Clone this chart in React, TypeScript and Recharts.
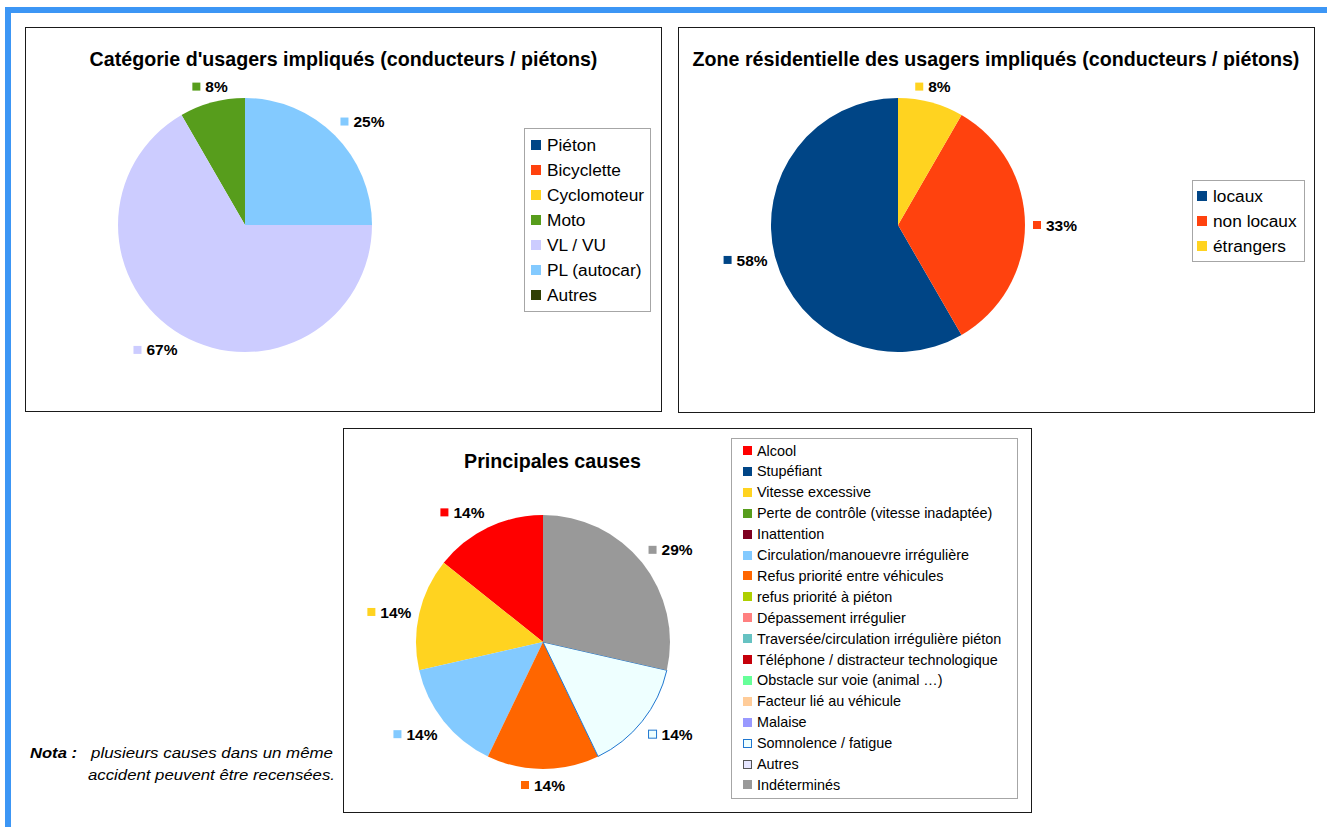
import React from 'react';
import { PieChart, Pie, Cell, Legend } from 'recharts';

const FONT = '"Liberation Sans", Arial, Helvetica, sans-serif';

// ---- Chart 1 : Catégorie d'usagers impliqués ----
const usagerCategories = ['Piéton', 'Bicyclette', 'Cyclomoteur', 'Moto', 'VL / VU', 'PL (autocar)', 'Autres'];
const usagerValues = [0, 0, 0, 1, 8, 3, 0];
const usagerColors = ['#004586', '#ff420e', '#ffd320', '#579d1c', '#ccccff', '#83caff', '#314004'];
const usagerStrokes = ['none', 'none', 'none', 'none', 'none', 'none', 'none'];

// ---- Chart 2 : Zone résidentielle ----
const zoneCategories = ['locaux', 'non locaux', 'étrangers'];
const zoneValues = [7, 4, 1];
const zoneColors = ['#004586', '#ff420e', '#ffd320'];
const zoneStrokes = ['none', 'none', 'none'];

// ---- Chart 3 : Principales causes ----
const causeCategories = [
  'Alcool',
  'Stupéfiant',
  'Vitesse excessive',
  'Perte de contrôle (vitesse inadaptée)',
  'Inattention',
  'Circulation/manouevre irrégulière',
  'Refus priorité entre véhicules',
  'refus priorité à piéton',
  'Dépassement irrégulier',
  'Traversée/circulation irrégulière piéton',
  'Téléphone / distracteur technologique',
  'Obstacle sur voie (animal …)',
  'Facteur lié au véhicule',
  'Malaise',
  'Somnolence / fatigue',
  'Autres',
  'Indéterminés',
];
const causeValues = [1, 0, 1, 0, 0, 1, 1, 0, 0, 0, 0, 0, 0, 0, 1, 0, 2];
const causeColors = [
  '#ff0000', '#004586', '#ffd320', '#579d1c', '#7e0021', '#83caff', '#ff6600', '#aecf00',
  '#ff8080', '#66c2c2', '#c5000b', '#66ff99', '#ffcc99', '#9999ff', '#eeffff', '#e6e6ff', '#999999',
];
const causeStrokes = [
  'none', 'none', 'none', 'none', 'none', 'none', 'none', 'none',
  'none', 'none', 'none', 'none', 'none', 'none', '#1f77d0', '#555555', 'none',
];

const LABEL_SIZE = 15.5;

function makeLabel(values: number[], colors: string[], strokes: string[], pcx: number, pcy: number) {
  const total = values.reduce((a, b) => a + b, 0);
  return (props: any) => {
    const { midAngle, outerRadius, index } = props;
    const value = values[index];
    if (!value) return null;
    const rad = Math.PI / 180;
    const dx = Math.cos(midAngle * rad);
    const dy = -Math.sin(midAngle * rad);
    const r = outerRadius + 8;
    const cx = typeof props.cx === 'number' ? props.cx : pcx;
    const cy = typeof props.cy === 'number' ? props.cy : pcy;
    const px = cx + dx * r;
    const py = cy + dy * r;
    const text = `${Math.round((value / total) * 100)}%`;
    const tw = text.split('').reduce((s, c) => s + (c === '%' ? 0.889 : 0.556), 0) * LABEL_SIZE;
    const sq = 8;
    const gap = 5;
    const w = sq + gap + tw;
    const h = 16;
    const left = dx > 0.38 ? px : dx < -0.38 ? px - w : px - w / 2;
    const top = dy > 0.38 ? py : dy < -0.38 ? py - h : py - h / 2;
    const midY = top + h / 2;
    return (
      <g key={`lbl-${index}`}>
        <rect
          x={left}
          y={midY - sq / 2}
          width={sq}
          height={sq}
          fill={colors[index]}
          stroke={strokes[index] === 'none' ? 'none' : strokes[index]}
          strokeWidth={1}
        />
        <text
          x={left + sq + gap}
          y={midY + 0.36 * LABEL_SIZE}
          fontSize={LABEL_SIZE}
          fontWeight="bold"
          fontFamily={FONT}
          fill="#000"
        >
          {text}
        </text>
      </g>
    );
  };
}

type LegendSpec = {
  names: string[];
  colors: string[];
  strokes: string[];
  fontSize: number;
  sq: number;
  sqX: number;
  textX: number;
  firstY: number;
  step: number;
  width: number;
  height: number;
};

function LegendBox(spec: LegendSpec) {
  return (
    <div
      style={{
        position: 'relative',
        width: spec.width,
        height: spec.height,
        border: '1px solid #a6a6a6',
        boxSizing: 'border-box',
        background: '#fff',
        fontFamily: FONT,
      }}
    >
      {spec.names.map((n, i) => (
        <div
          key={n}
          style={{ position: 'absolute', left: 0, top: spec.firstY + spec.step * i - 10, height: 20, width: '100%' }}
        >
          <div
            style={{
              position: 'absolute',
              left: spec.sqX,
              top: 10 - spec.sq / 2,
              width: spec.sq,
              height: spec.sq,
              background: spec.colors[i],
              boxSizing: 'border-box',
              border: spec.strokes[i] === 'none' ? 'none' : `1px solid ${spec.strokes[i]}`,
            }}
          />
          <div
            style={{
              position: 'absolute',
              left: spec.textX,
              top: 0,
              lineHeight: '20px',
              fontSize: spec.fontSize,
              color: '#000',
              whiteSpace: 'nowrap',
            }}
          >
            {n}
          </div>
        </div>
      ))}
    </div>
  );
}

type ChartSpec = {
  boxLeft: number;
  boxTop: number;
  w: number;
  h: number;
  names: string[];
  values: number[];
  colors: string[];
  strokes: string[];
  cx: number;
  cy: number;
  r: number;
  legend: LegendSpec;
  legendLeft: number;
  legendTop: number;
};

function PieBox(s: ChartSpec) {
  const data = s.names.map((name, i) => ({ name, value: s.values[i] }));
  return (
    <div
      style={{
        position: 'absolute',
        left: s.boxLeft,
        top: s.boxTop,
        width: s.w,
        height: s.h,
        border: '1px solid #1a1a1a',
        background: '#fff',
      }}
    >
      <PieChart width={s.w} height={s.h} margin={{ top: 0, right: 0, bottom: 0, left: 0 }}>
        <Pie
          data={data}
          dataKey="value"
          nameKey="name"
          cx={s.cx}
          cy={s.cy}
          outerRadius={s.r}
          startAngle={90}
          endAngle={450}
          isAnimationActive={false}
          labelLine={false}
          label={makeLabel(s.values, s.colors, s.strokes, s.cx, s.cy)}
          stroke="none"
        >
          {data.map((d, i) => (
            <Cell
              key={d.name}
              fill={s.colors[i]}
              stroke={s.strokes[i] === 'none' ? 'none' : s.strokes[i]}
              strokeWidth={1}
            />
          ))}
        </Pie>
        <Legend
          verticalAlign="bottom"
          content={() => <LegendBox {...s.legend} />}
          wrapperStyle={{
            left: s.legendLeft,
            top: s.legendTop,
            bottom: 'auto',
            right: 'auto',
            width: s.legend.width,
            height: s.legend.height,
          }}
        />
      </PieChart>
    </div>
  );
}

export default function App() {
  return (
    <div
      style={{
        position: 'absolute',
        left: 0,
        top: 0,
        width: 1327,
        height: 827,
        background: '#fff',
        overflow: 'hidden',
        fontFamily: FONT,
      }}
    >
      <div style={{ position: 'absolute', left: 5, top: 7, width: 1322, height: 6, background: '#3c96f5' }} />
      <div style={{ position: 'absolute', left: 5, top: 7, width: 6, height: 820, background: '#3c96f5' }} />

      <PieBox
        boxLeft={25}
        boxTop={27}
        w={635}
        h={383}
        names={usagerCategories}
        values={usagerValues}
        colors={usagerColors}
        strokes={usagerStrokes}
        cx={219}
        cy={197}
        r={127}
        legendLeft={498}
        legendTop={100}
        legend={{
          names: usagerCategories,
          colors: usagerColors,
          strokes: usagerStrokes,
          fontSize: 17.3,
          sq: 10,
          sqX: 6,
          textX: 22,
          firstY: 16,
          step: 25,
          width: 127,
          height: 184,
        }}
      />

      <PieBox
        boxLeft={678}
        boxTop={27}
        w={635}
        h={384}
        names={zoneCategories}
        values={zoneValues}
        colors={zoneColors}
        strokes={zoneStrokes}
        cx={219}
        cy={197}
        r={127}
        legendLeft={513}
        legendTop={152}
        legend={{
          names: zoneCategories,
          colors: zoneColors,
          strokes: zoneStrokes,
          fontSize: 17.3,
          sq: 10,
          sqX: 4,
          textX: 20,
          firstY: 15,
          step: 25,
          width: 113,
          height: 82,
        }}
      />

      <PieBox
        boxLeft={343}
        boxTop={428}
        w={687}
        h={383}
        names={causeCategories}
        values={causeValues}
        colors={causeColors}
        strokes={causeStrokes}
        cx={199}
        cy={213}
        r={127}
        legendLeft={387}
        legendTop={9}
        legend={{
          names: causeCategories,
          colors: causeColors,
          strokes: causeStrokes,
          fontSize: 14.4,
          sq: 9,
          sqX: 11,
          textX: 25,
          firstY: 11.5,
          step: 20.9,
          width: 287,
          height: 361,
        }}
      />

      <svg
        width={1327}
        height={827}
        style={{ position: 'absolute', left: 0, top: 0, pointerEvents: 'none' }}
      >
        <text x={343.5} y={65.7} textAnchor="middle" fontFamily={FONT} fontWeight="bold" fontSize={19.65} fill="#000">
          Catégorie d'usagers impliqués (conducteurs / piétons)
        </text>
        <text x={996} y={66} textAnchor="middle" fontFamily={FONT} fontWeight="bold" fontSize={19.65} fill="#000">
          Zone résidentielle des usagers impliqués (conducteurs / piétons)
        </text>
        <text x={552.5} y={468} textAnchor="middle" fontFamily={FONT} fontWeight="bold" fontSize={19.65} fill="#000">
          Principales causes
        </text>
        <text x={30} y={758} fontFamily={FONT} fontWeight="bold" fontStyle="italic" fontSize={14} fill="#000"
          textLength={47} lengthAdjust="spacingAndGlyphs">
          Nota :
        </text>
        <text x={91} y={758} fontFamily={FONT} fontStyle="italic" fontSize={14} fill="#000"
          textLength={242} lengthAdjust="spacingAndGlyphs">
          plusieurs causes dans un même
        </text>
        <text x={88} y={780} fontFamily={FONT} fontStyle="italic" fontSize={14} fill="#000"
          textLength={247} lengthAdjust="spacingAndGlyphs">
          accident peuvent être recensées.
        </text>
      </svg>
    </div>
  );
}
